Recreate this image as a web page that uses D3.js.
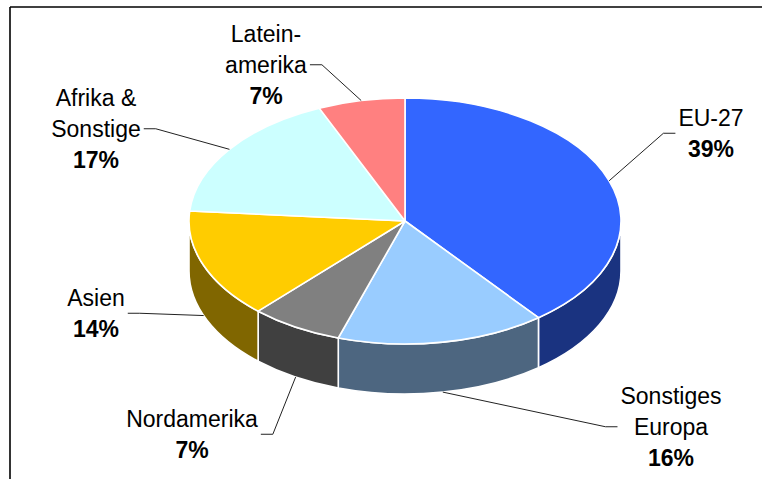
<!doctype html>
<html>
<head>
<meta charset="UTF-8">
<title>Anteile 3D-Kreis</title>
<script src="https://cdn.jsdelivr.net/npm/d3@7"></script>
<style>
  body { margin: 0; background: #fff; }
  text { font-family: "Liberation Sans", Arial, sans-serif; font-size: 23px; fill: #000; }
</style>
</head>
<body>
<svg id="chart" width="762" height="479"></svg>
<script>
// data
var categories = ["EU-27", "Sonstiges Europa", "Nordamerika", "Asien", "Afrika & Sonstige", "Lateinamerika"];
var shares = [39.4, 15.6, 6.9, 14.4, 17.2, 6.5];
var labelLines = [["EU-27"], ["Sonstiges", "Europa"], ["Nordamerika"], ["Asien"], ["Afrika &", "Sonstige"], ["Latein-", "amerika"]];
var topColors = ["#3366ff", "#99ccff", "#808080", "#ffcc00", "#ccffff", "#ff8080"];
var sideColors = ["#1a3380", "#4d6680", "#404040", "#806600", "#668080", "#804040"];

// label placement: centre x, first baseline, which side the leader stub sits on
var labelPos = [
  {x: 711, y: 126, side: "right"},
  {x: 671, y: 404, side: "right"},
  {x: 192, y: 427, side: "left"},
  {x: 96,  y: 306, side: "left"},
  {x: 96,  y: 106, side: "left"},
  {x: 266, y: 42,  side: "left"}
];

var cx = 405, cy = 221, rx = 216, ry = 123, depth = 50;
var lineH = 31;

var svg = d3.select("#chart");

// frame
svg.append("line").attr("x1", 10).attr("y1", 7).attr("x2", 10).attr("y2", 479)
   .attr("stroke", "#000").attr("stroke-width", 1.6);
svg.append("line").attr("x1", 10).attr("y1", 7).attr("x2", 762).attr("y2", 7)
   .attr("stroke", "#000").attr("stroke-width", 1.6);

var pie = d3.pie().sort(null).value(function(d){ return d; });
var arcs = pie(shares);

function pt(a, dy){
  return [cx + rx * Math.sin(a), cy - ry * Math.cos(a) + (dy || 0)];
}

function topPath(d){
  var p0 = pt(d.startAngle), p1 = pt(d.endAngle);
  var large = (d.endAngle - d.startAngle) > Math.PI ? 1 : 0;
  return "M" + cx + "," + cy + "L" + p0 + "A" + rx + "," + ry + " 0 " + large + " 1 " + p1 + "Z";
}

function sidePath(d){
  var a0 = Math.max(d.startAngle, Math.PI / 2);
  var a1 = Math.min(d.endAngle, Math.PI * 3 / 2);
  if (a1 <= a0) return null;
  var t0 = pt(a0), t1 = pt(a1), b0 = pt(a0, depth), b1 = pt(a1, depth);
  return "M" + t0 + "A" + rx + "," + ry + " 0 0 1 " + t1 +
         "L" + b1 + "A" + rx + "," + ry + " 0 0 0 " + b0 + "Z";
}

var g = svg.append("g");

g.selectAll("path.side")
  .data(arcs.filter(function(d){ return sidePath(d) !== null; }))
  .enter().append("path")
  .attr("class", "side")
  .attr("d", sidePath)
  .attr("fill", function(d){ return sideColors[d.index]; })
  .attr("stroke", "#fff")
  .attr("stroke-width", 1.6)
  .attr("stroke-linejoin", "round");

g.selectAll("path.top")
  .data(arcs)
  .enter().append("path")
  .attr("class", "top")
  .attr("d", topPath)
  .attr("fill", function(d){ return topColors[d.index]; })
  .attr("stroke", "#fff")
  .attr("stroke-width", 1.6)
  .attr("stroke-linejoin", "round");

// labels with leader lines
var labels = svg.append("g");
arcs.forEach(function(d, i){
  var pos = labelPos[i];
  var lines = labelLines[i].concat([Math.round(shares[i]) + "%"]);
  var lg = labels.append("g");
  var maxW = 0;
  lines.forEach(function(t, k){
    var el = lg.append("text")
      .attr("x", pos.x)
      .attr("y", pos.y + k * lineH)
      .attr("text-anchor", "middle")
      .style("font-weight", k === lines.length - 1 ? "bold" : "normal")
      .text(t);
    maxW = Math.max(maxW, el.node().getComputedTextLength());
  });
  var midY = pos.y + ((lines.length - 1) * lineH - 16.5) / 2;
  var mid = (d.startAngle + d.endAngle) / 2;
  var front = mid > Math.PI / 2 && mid < Math.PI * 3 / 2;
  var anchor = pt(mid, front ? depth : 0);
  var sx0, sx1;
  if (pos.side === "left") { sx0 = pos.x + maxW / 2 + 3; sx1 = sx0 + 12; }
  else { sx0 = pos.x - maxW / 2 - 3; sx1 = sx0 - 12; }
  lg.append("polyline")
    .attr("points", [[sx0, midY], [sx1, midY], anchor].join(" "))
    .attr("fill", "none")
    .attr("stroke", "#222")
    .attr("stroke-width", 1);
});
</script>
</body>
</html>
